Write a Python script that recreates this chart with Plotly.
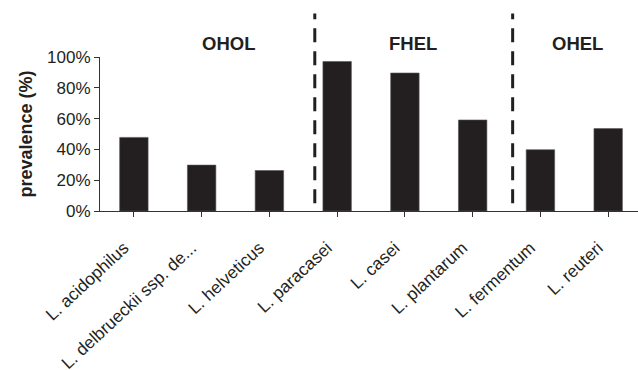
import plotly.graph_objects as go

categories = ["L. acidophilus", "L. delbrueckii ssp. de...", "L. helveticus", "L. paracasei",
              "L. casei", "L. plantarum", "L. fermentum", "L. reuteri"]
prevalence = [47.8, 29.8, 26.3, 97.1, 89.6, 59.1, 39.8, 53.5]
group_labels = ["OHOL", "FHEL", "OHEL"]
group_centers = [1.40, 4.12, 6.54]
separators = [2.67, 5.59]
y_ticks = [0, 20, 40, 60, 80, 100]
y_tick_labels = ["0%", "20%", "40%", "60%", "80%", "100%"]

FONT = "Liberation Sans, Arial, sans-serif"
INK = "#231f20"

fig = go.Figure()
fig.add_trace(go.Bar(
    x=list(range(len(categories))), y=prevalence,
    marker=dict(color=INK, line=dict(color="#555555", width=0.6)),
    width=0.42,
))

for s in separators:
    fig.add_shape(type="line", xref="x", yref="paper", x0=s, x1=s, y0=0.05, y1=1.282,
                  line=dict(color=INK, width=3, dash="14px,9px"))

for lab, cx in zip(group_labels, group_centers):
    fig.add_annotation(text="<b>%s</b>" % lab, x=cx, y=1.087, xref="x", yref="paper",
                       showarrow=False, xanchor="center", yanchor="middle",
                       font=dict(family=FONT, size=18.5, color=INK))

fig.add_annotation(text="<b>prevalence (%)</b>", xref="paper", yref="paper",
                   x=(25.5 - 100) / 538, y=0.5, textangle=-90, showarrow=False,
                   xanchor="center", yanchor="middle",
                   font=dict(family=FONT, size=18, color=INK))

fig.update_layout(
    width=638, height=370,
    margin=dict(l=100, r=0, t=57, b=159, autoexpand=False),
    plot_bgcolor="white", paper_bgcolor="white",
    showlegend=False,
    font=dict(family=FONT, size=17, color=INK),
    xaxis=dict(
        tickmode="array", tickvals=list(range(len(categories))), ticktext=categories,
        range=[-0.5, 7.44], tickangle=-43, showgrid=False, zeroline=False,
        showline=True, linecolor="#333333", linewidth=1,
        ticks="outside", ticklen=5, tickcolor="#333333", tickson="boundaries",
        ticklabelstandoff=14, ticklabelshift=-10,
        tickfont=dict(family=FONT, size=17.3, color=INK),
    ),
    yaxis=dict(
        range=[0, 100], tickmode="array", tickvals=y_ticks, ticktext=y_tick_labels,
        showgrid=False, zeroline=False,
        showline=True, linecolor="#333333", linewidth=1,
        ticks="outside", ticklen=5, tickcolor="#333333",
        tickfont=dict(family=FONT, size=17, color=INK),
    ),
)

fig.write_html(
    "out.html",
    config={"displayModeBar": False},
    post_script="document.body.style.margin='0';document.body.style.overflow='hidden';",
)
